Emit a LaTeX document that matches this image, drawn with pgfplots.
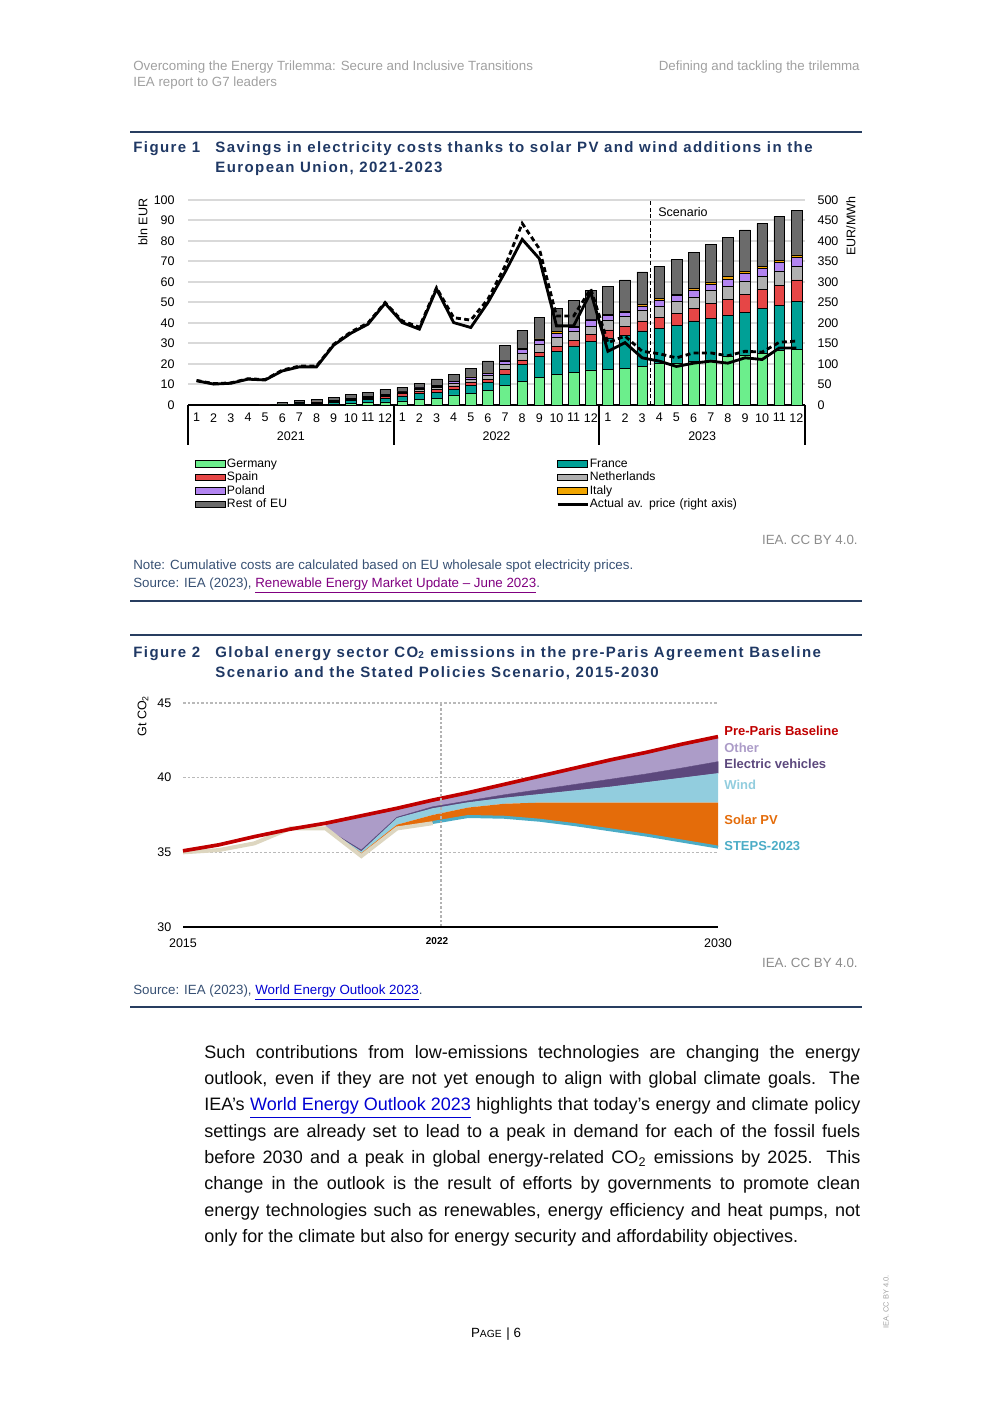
\documentclass[border=0pt]{standalone}
\usepackage{fontspec}
\setmainfont{Liberation Sans}
\newfontfamily\titlefont[LetterSpace=9.5]{Liberation Sans}
\usepackage{pgfplots}
\usepackage{pgfplotstable}
\pgfplotsset{compat=1.18}

\definecolor{hdrc}{RGB}{160,160,160}
\definecolor{rulec}{RGB}{40,62,96}
\definecolor{titc}{RGB}{31,56,100}
\definecolor{notec}{RGB}{55,80,115}
\definecolor{gridc}{RGB}{217,217,217}
\definecolor{gerc}{RGB}{108,238,140}
\definecolor{frac}{RGB}{0,160,150}
\definecolor{spac}{RGB}{230,70,70}
\definecolor{nedc}{RGB}{176,176,176}
\definecolor{polc}{RGB}{178,132,240}
\definecolor{itac}{RGB}{240,165,0}
\definecolor{resc}{RGB}{107,107,107}
\definecolor{othc}{RGB}{172,156,200}
\definecolor{evc}{RGB}{92,72,125}
\definecolor{windc}{RGB}{146,205,222}
\definecolor{solc}{RGB}{228,108,10}
\definecolor{stepc}{RGB}{75,172,198}
\definecolor{basec}{RGB}{192,0,0}
\definecolor{histc}{RGB}{221,214,192}
\definecolor{purpc}{RGB}{128,0,128}
\definecolor{bluec}{RGB}{0,0,210}
\definecolor{ccc}{RGB}{140,140,140}
\definecolor{bodyc}{RGB}{10,10,10}

\pgfplotstableread{
m G F S N P I R
0 0 0 0 0 0 0 0
1 0 0 0 0 0 0 0
2 0 0 0 0 0 0 0
3 0 0 0 0 0 0 0
4 0 0 0.1 0 0 0 0.3
5 0.1 0.1 0.2 0.1 0 0 0.6
6 0.2 0.3 0.4 0.2 0.1 0.05 1.0
7 0.3 0.5 0.4 0.2 0.1 0.05 1.3
8 0.5 0.8 0.6 0.3 0.1 0.1 1.5
9 0.8 1.3 0.6 0.4 0.2 0.1 1.8
10 1.1 1.5 0.8 0.4 0.3 0.1 2.1
11 1.5 1.8 1.0 0.5 0.3 0.2 2.3
12 2.0 2.5 1.1 0.8 0.3 0.1 1.8
13 2.8 2.9 1.1 1.0 0.5 0.2 2.1
14 3.3 2.9 1.4 1.0 0.6 0.2 3.3
15 4.9 2.7 1.7 1.3 0.8 0.2 3.5
16 5.7 3.7 1.5 1.6 1.0 0.2 4.2
17 7.3 3.8 1.4 1.8 1.1 0.3 5.8
18 9.4 5.6 2.4 2.4 1.7 0.4 7.2
19 11.4 8.4 2.2 3.2 2.0 0.5 8.7
20 13.3 10.3 2.1 4.1 1.6 0.8 10.6
21 15.0 11.0 2.5 4.5 2.0 0.8 11.2
22 15.9 12.9 2.6 4.4 1.9 0.6 12.6
23 17.1 14.1 3.3 4.0 3.0 0.4 14.1
24 17.4 15.4 3.8 4.9 2.1 0.6 13.8
25 17.9 16.2 4.1 4.9 2.1 0.7 15.1
26 19.0 17.1 4.9 5.3 2.0 0.8 15.8
27 20.3 17.1 5.4 5.2 3.2 0.7 15.9
28 20.5 18.4 5.8 6.0 2.6 0.7 17.1
29 21.1 19.9 6.2 5.6 3.3 0.8 17.6
30 22.0 20.3 7.3 6.2 3.2 1.0 18.5
31 23.6 20.0 8.1 6.3 3.5 1.1 19.2
32 24.4 20.8 8.8 6.5 3.7 0.8 20.4
33 25.2 22.0 9.2 6.5 3.8 1.1 20.8
34 26.5 22.0 10.0 6.9 4.0 1.0 21.5
35 27.2 23.5 10.3 6.8 4.2 1.2 21.9
}\barsdata

\pgfplotstableread{
m act alt
0 59 60
1 51 52
2 53 54
3 63 64
4 61 62
5 83 85
6 93 95
7 93 95
8 146 148
9 175 178
10 197 200
11 248 250
12 201 205
13 185 190
14 283 286
15 201 213
16 189 207
17 250 258
18 324 339
19 404 443
20 357 381
21 193 217
22 193 217
23 275 283
24 131 152
25 152 168
26 115 131
27 107 125
28 94 115
29 102 127
30 107 127
31 102 120
32 115 131
33 111 129
34 139 153
35 139 156
}\pricedata

\pgfplotsset{
  mybar/.style={fill=#1, draw=black, line width=0.3pt,
    legend image code/.code={\draw[fill=#1,draw=black,line width=0.4pt] (0pt,-2pt) rectangle (18pt,2pt);}},
}

\begin{document}
\begin{tikzpicture}
\begin{scope}[x=0.6pt,y=-0.6pt]
\path[use as bounding box] (0,0) rectangle (992,1403);
% header
\node[anchor=base west, inner sep=0pt, text=hdrc, font=\fontsize{8}{9.6}\selectfont] at (133,71) {Overcoming the Energy Trilemma: Secure and Inclusive Transitions};
\node[anchor=base east, inner sep=0pt, text=hdrc, font=\fontsize{8}{9.6}\selectfont] at (860,71) {Defining and tackling the trilemma};
\node[anchor=base west, inner sep=0pt, text=hdrc, font=\fontsize{8}{9.6}\selectfont] at (133,87) {IEA report to G7 leaders};
% rules
\draw[rulec, line width=1.2pt] (130,132) -- (862,132);
\draw[rulec, line width=1.2pt] (130,601) -- (862,601);
\draw[rulec, line width=1.2pt] (130,635) -- (862,635);
\draw[rulec, line width=1.2pt] (130,1007) -- (862,1007);
% figure 1 title
\node[anchor=base west, inner sep=0pt, text=titc, font=\titlefont\bfseries\fontsize{9}{11}\selectfont] at (133,153) {Figure 1};
\node[anchor=base west, inner sep=0pt, text=titc, font=\titlefont\bfseries\fontsize{9}{11}\selectfont] at (215,153) {Savings in electricity costs thanks to solar PV and wind additions in the};
\node[anchor=base west, inner sep=0pt, text=titc, font=\titlefont\bfseries\fontsize{9}{11}\selectfont] at (215,173) {European Union, 2021-2023};
% fig1 axis labels
\node[rotate=90, inner sep=0pt, font=\fontsize{7.5}{9}\selectfont] at (143,222) {bln EUR};
\node[rotate=90, inner sep=0pt, font=\fontsize{7.5}{9}\selectfont] at (851,226) {EUR/MWh};
\node[anchor=west, inner sep=0pt, font=\fontsize{7.5}{9}\selectfont] at (658,212) {Scenario};
% fig1 notes
\node[anchor=base east, inner sep=0pt, text=ccc, font=\fontsize{8}{9.6}\selectfont] at (858,544) {IEA. CC BY 4.0.};
\node[anchor=base west, inner sep=0pt, text=notec, font=\fontsize{8}{9.6}\selectfont] at (133,569) {Note: Cumulative costs are calculated based on EU wholesale spot electricity prices.};
\node[anchor=base west, inner sep=0pt, text=notec, font=\fontsize{8}{9.6}\selectfont] at (133,587) {Source: IEA (2023), {\color{purpc}\underline{Renewable Energy Market Update – June 2023}}.};
% figure 2 title
\node[anchor=base west, inner sep=0pt, text=titc, font=\titlefont\bfseries\fontsize{9}{11}\selectfont] at (133,657) {Figure 2};
\node[anchor=base west, inner sep=0pt, text=titc, font=\titlefont\bfseries\fontsize{9}{11}\selectfont] at (215,657) {Global energy sector CO\textsubscript{2} emissions in the pre-Paris Agreement Baseline};
\node[anchor=base west, inner sep=0pt, text=titc, font=\titlefont\bfseries\fontsize{9}{11}\selectfont] at (215,677) {Scenario and the Stated Policies Scenario, 2015-2030};
\node[rotate=90, inner sep=0pt, font=\fontsize{7.5}{9}\selectfont] at (143,716) {Gt CO\textsubscript{2}};
% fig2 right labels
\node[anchor=west, inner sep=0pt, text=basec, font=\bfseries\fontsize{7.8}{9}\selectfont] at (724,731) {Pre-Paris Baseline};
\node[anchor=west, inner sep=0pt, text=othc, font=\bfseries\fontsize{7.8}{9}\selectfont] at (724,748) {Other};
\node[anchor=west, inner sep=0pt, text=evc, font=\bfseries\fontsize{7.8}{9}\selectfont] at (724,764) {Electric vehicles};
\node[anchor=west, inner sep=0pt, text=windc, font=\bfseries\fontsize{7.8}{9}\selectfont] at (724,785) {Wind};
\node[anchor=west, inner sep=0pt, text=solc, font=\bfseries\fontsize{7.8}{9}\selectfont] at (724,820) {Solar PV};
\node[anchor=west, inner sep=0pt, text=stepc, font=\bfseries\fontsize{7.8}{9}\selectfont] at (724,846) {STEPS-2023};
\node[inner sep=0pt, font=\bfseries\fontsize{6}{7}\selectfont] at (437,941) {2022};
\node[anchor=base east, inner sep=0pt, text=ccc, font=\fontsize{8}{9.6}\selectfont] at (858,967) {IEA. CC BY 4.0.};
\node[anchor=base west, inner sep=0pt, text=notec, font=\fontsize{8}{9.6}\selectfont] at (133,994) {Source: IEA (2023), {\color{bluec}\underline{World Energy Outlook 2023}}.};
% body text
\begin{scope}[every node/.style={anchor=base west, inner sep=0pt, text=bodyc, font=\fontsize{10.8}{13}\selectfont}]
\node at (204,1058.3) {\hbox to 393.6pt{Such contributions from low-emissions technologies are changing the energy}};
\node at (204,1084.6) {\hbox to 393.6pt{outlook, even if they are not yet enough to align with global climate goals. The}};
\node at (204,1110.9) {\hbox to 393.6pt{IEA’s {\color{bluec}\underline{World Energy Outlook 2023}} highlights that today’s energy and climate policy}};
\node at (204,1137.2) {\hbox to 393.6pt{settings are already set to lead to a peak in demand for each of the fossil fuels}};
\node at (204,1163.5) {\hbox to 393.6pt{before 2030 and a peak in global energy-related CO\textsubscript{2} emissions by 2025. This}};
\node at (204,1189.8) {\hbox to 393.6pt{change in the outlook is the result of efforts by governments to promote clean}};
\node at (204,1216.1) {\hbox to 393.6pt{energy technologies such as renewables, energy efficiency and heat pumps, not}};
\node at (204,1242.4) {only for the climate but also for energy security and affordability objectives.};
\end{scope}
\node[inner sep=0pt] at (496,1334) {{\fontsize{8}{9}\selectfont P}{\fontsize{6.2}{7}\selectfont AGE} {\fontsize{8}{9}\selectfont | 6}};
\node[rotate=90, inner sep=0pt, text=hdrc, font=\fontsize{4.5}{5}\selectfont] at (886,1302) {IEA. CC BY 4.0.};
\end{scope}

% ---------------- Figure 1: bars ----------------
\begin{axis}[
  at={(112.8pt,-243pt)}, anchor=south west,
  scale only axis, width=370.2pt, height=123pt,
  xmin=-0.5, xmax=35.5, ymin=0, ymax=100,
  ybar stacked, bar width=6.4pt,
  axis line style={draw=none},
  major tick length=0pt,
  ytick={0,10,...,100},
  xtick={0,...,35},
  xticklabels={1,2,3,4,5,6,7,8,9,10,11,12,1,2,3,4,5,6,7,8,9,10,11,12,1,2,3,4,5,6,7,8,9,10,11,12},
  ymajorgrids, grid style={draw=gridc, line width=1.2pt},
  tick label style={font=\fontsize{7.5}{9}\selectfont},
  /pgf/number format/assume math mode=true,
  yticklabel style={xshift=-4.5pt},
  xticklabel style={yshift=-1.5pt},
  clip=false,
  legend columns=2,
  legend cell align=left,
  legend style={at={(rel axis cs:0.0113,-0.253)}, anchor=north west, draw=none, fill=none,
    inner sep=0pt, font=\fontsize{7.3}{8}\selectfont, row sep=0pt, column sep=0pt,
    nodes={inner sep=0.6pt, text height=5.4pt, text depth=1.5pt, text width=197pt, align=left}},
]
\addplot[mybar=gerc] table[x=m,y=G]{\barsdata};
\addlegendentry{Germany}
\addplot[mybar=frac] table[x=m,y=F]{\barsdata};
\addlegendentry{France}
\addplot[mybar=spac] table[x=m,y=S]{\barsdata};
\addlegendentry{Spain}
\addplot[mybar=nedc] table[x=m,y=N]{\barsdata};
\addlegendentry{Netherlands}
\addplot[mybar=polc] table[x=m,y=P]{\barsdata};
\addlegendentry{Poland}
\addplot[mybar=itac] table[x=m,y=I]{\barsdata};
\addlegendentry{Italy}
\addplot[mybar=resc] table[x=m,y=R]{\barsdata};
\addlegendentry{Rest of EU}
\addlegendimage{legend image code/.code={\draw[black,line width=1.5pt] (0pt,0pt) -- (18pt,0pt);}}
\addlegendentry{Actual av. price (right axis)}
\draw[black, line width=1.3pt] (axis cs:-0.5,0) -- (axis cs:35.5,0);
\draw[black, line width=1.3pt] (axis cs:-0.5,0) -- ++(0pt,-24pt);
\draw[black, line width=1.3pt] (axis cs:11.5,0) -- ++(0pt,-24pt);
\draw[black, line width=1.3pt] (axis cs:23.5,0) -- ++(0pt,-24pt);
\draw[black, line width=1.3pt] (axis cs:35.5,0) -- ++(0pt,-24pt);
\node[font=\fontsize{7.5}{9}\selectfont] at (axis cs:5.5,0) [yshift=-18.6pt] {2021};
\node[font=\fontsize{7.5}{9}\selectfont] at (axis cs:17.5,0) [yshift=-18.6pt] {2022};
\node[font=\fontsize{7.5}{9}\selectfont] at (axis cs:29.5,0) [yshift=-18.6pt] {2023};
\end{axis}

% ---------------- Figure 1: prices ----------------
\begin{axis}[
  at={(112.8pt,-243pt)}, anchor=south west,
  scale only axis, width=370.2pt, height=123pt,
  xmin=-0.5, xmax=35.5, ymin=0, ymax=500,
  axis y line*=right, axis x line=none,
  axis line style={draw=none},
  major tick length=0pt,
  ytick={0,50,...,500},
  tick label style={font=\fontsize{7.5}{9}\selectfont},
  /pgf/number format/assume math mode=true,
  yticklabel style={anchor=west, xshift=4pt},
  clip=false,
]
\addplot[black, line width=0.9pt, dash pattern=on 2.4pt off 1.6pt] coordinates {(26.5,0) (26.5,500)};
\addplot[black, line width=1.7pt, dash pattern=on 3pt off 2pt] table[x=m,y=alt]{\pricedata};
\addplot[black, line width=1.7pt] table[x=m,y=act]{\pricedata};
\end{axis}

% ---------------- Figure 2 ----------------
\begin{axis}[
  at={(109.8pt,-556.2pt)}, anchor=south west,
  scale only axis, width=321pt, height=134.4pt,
  xmin=2015, xmax=2030, ymin=30, ymax=45,
  axis line style={draw=none},
  major tick length=0pt,
  xtick={2015,2030}, xticklabels={2015,2030},
  ytick={30,35,40,45},
  ymajorgrids, grid style={draw=gray!55, line width=0.9pt, dash pattern=on 1.6pt off 1.1pt},
  tick label style={font=\fontsize{7.5}{9}\selectfont},
  /pgf/number format/assume math mode=true,
  yticklabel style={xshift=-3.5pt},
  xticklabel style={yshift=-3.6pt},
  clip=false,
]
% Other
\addplot[fill=othc, draw=none] coordinates {(2019,36.95) (2020,37.45) (2021,37.95) (2022,38.5) (2023,39.0) (2024,39.55) (2025,40.1) (2026,40.65) (2027,41.2) (2028,41.7) (2029,42.25) (2030,42.75) (2030,41.07) (2029,40.65) (2028,40.25) (2027,39.9) (2026,39.55) (2025,39.2) (2024,38.85) (2023,38.45) (2022,38.05) (2021,37.35) (2020,35.15) (2019,36.6)} -- cycle;
% Electric vehicles
\addplot[fill=evc, draw=evc, line width=0.3pt] coordinates {(2019,36.6) (2020,35.15) (2021,37.35) (2022,38.05) (2023,38.45) (2024,38.85) (2025,39.2) (2026,39.55) (2027,39.9) (2028,40.25) (2029,40.65) (2030,41.07) (2030,40.3) (2029,40.0) (2028,39.7) (2027,39.4) (2026,39.15) (2025,38.9) (2024,38.65) (2023,38.35) (2022,37.95) (2021,37.3) (2020,35.07) (2019,36.6)} -- cycle;
% Wind
\addplot[fill=windc, draw=none] coordinates {(2019,36.6) (2020,35.07) (2021,37.3) (2022,37.95) (2023,38.35) (2024,38.65) (2025,38.9) (2026,39.15) (2027,39.4) (2028,39.7) (2029,40.0) (2030,40.3) (2030,38.33) (2029,38.33) (2028,38.33) (2027,38.33) (2026,38.33) (2025,38.33) (2024,38.25) (2023,38.0) (2022,37.5) (2021,36.85) (2020,34.95) (2019,36.6)} -- cycle;
% Solar PV
\addplot[fill=solc, draw=none] coordinates {(2019,36.6) (2020,34.95) (2021,36.85) (2022,37.5) (2023,38.0) (2024,38.25) (2025,38.33) (2026,38.33) (2027,38.33) (2028,38.33) (2029,38.33) (2030,38.33) (2030,35.35) (2029,35.75) (2028,36.15) (2027,36.5) (2026,36.85) (2025,37.15) (2024,37.35) (2023,37.4) (2022,37.0) (2021,36.6) (2020,34.75) (2019,36.6)} -- cycle;
% historical
\addplot[histc, line width=2.4pt] coordinates {(2015,35.0) (2016,35.15) (2017,35.6) (2018,36.6) (2019,36.6) (2020,34.75) (2021,36.6) (2022,36.95)};
% STEPS
\addplot[stepc, line width=1.8pt] coordinates {(2022,37.0) (2023,37.4) (2024,37.35) (2025,37.15) (2026,36.85) (2027,36.5) (2028,36.15) (2029,35.75) (2030,35.35)};
% Baseline
\addplot[basec, line width=2.2pt] coordinates {(2015,35.1) (2016,35.5) (2017,36.05) (2018,36.55) (2019,36.95) (2020,37.45) (2021,37.95) (2022,38.5) (2023,39.0) (2024,39.55) (2025,40.1) (2026,40.65) (2027,41.2) (2028,41.7) (2029,42.25) (2030,42.75)};
% 2022 marker
\addplot[gray!60, line width=0.9pt, dash pattern=on 1.6pt off 1.1pt] coordinates {(2022.23,30) (2022.23,45)};
\draw[black, line width=0.8pt] (axis cs:2015,30) -- (axis cs:2030,30);
\end{axis}
\end{tikzpicture}
\end{document}
